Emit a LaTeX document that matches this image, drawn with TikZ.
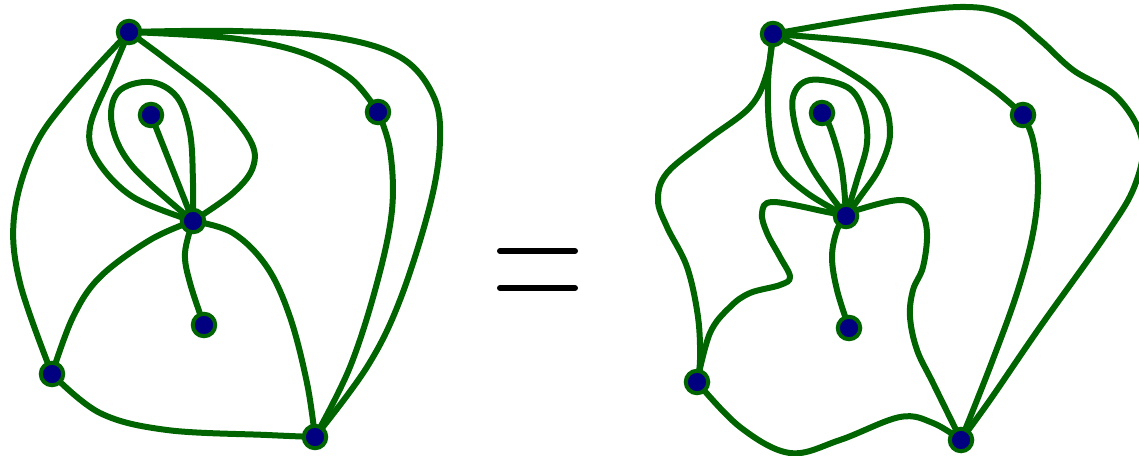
\documentclass[tikz,border=0pt]{standalone}
\usetikzlibrary{backgrounds}
\definecolor{edgegreen}{RGB}{0,100,0}
\definecolor{vertblue}{RGB}{0,0,128}
\begin{document}
\begin{tikzpicture}[x=1pt,y=-1pt,
  vert/.style={circle,draw=edgegreen,fill=vertblue,line width=4pt,minimum size=22.5pt,inner sep=0pt},
  edge/.style={draw=edgegreen,line width=6pt,line cap=round,line join=round},
  eqline/.style={draw=black,line width=6pt,line cap=round}]
\useasboundingbox (0,0) rectangle (1139,455);
% left graph vertices
\node[vert] (T) at (129,32) {};
\node[vert] (A) at (151,115) {};
\node[vert] (R) at (378,112) {};
\node[vert] (C) at (193,221) {};
\node[vert] (D) at (204,325) {};
\node[vert] (L) at (52,374) {};
\node[vert] (B) at (315,437) {};
% right graph vertices
\node[vert] (T2) at (773,34) {};
\node[vert] (A2) at (822,113) {};
\node[vert] (R2) at (1023,115) {};
\node[vert] (C2) at (846,216) {};
\node[vert] (D2) at (849,328) {};
\node[vert] (L2) at (697,382) {};
\node[vert] (B2) at (961,440) {};
\begin{pgfonlayer}{background}
\begin{scope}[every path/.style={edge}]
% left graph edges
\draw plot[smooth,tension=0.6] coordinates {(T.center) (230,38) (300,52) (350,78) (R.center)};
\draw plot[smooth,tension=0.6] coordinates {(T.center) (233,31) (333,37) (400,57) (433,95) (440,140) (430,205) (400,300) (367,367) (B.center)};
\draw plot[smooth,tension=0.6] coordinates {(R.center) (390,150) (392,210) (377,283) (350,367) (B.center)};
\draw plot[smooth,tension=0.6] coordinates {(T.center) (67,100) (33,150) (14,217) (20,283) (L.center)};
\draw plot[smooth,tension=0.6] coordinates {(L.center) (100,413) (167,430) (267,435) (B.center)};
\draw plot[smooth,tension=0.6] coordinates {(C.center) (150,240) (100,277) (73,317) (L.center)};
\draw plot[smooth,tension=0.6] coordinates {(C.center) (233,233) (267,267) (290,317) (307,383) (B.center)};
\draw plot[smooth,tension=0.6] coordinates {(C.center) (185,253) (190,283) (D.center)};
\draw (C.center) -- (A.center);
\draw plot[smooth,tension=0.6] coordinates {(T.center) (167,60) (217,100) (250,140) (253,167) (233,193) (C.center)};
\draw plot[smooth,tension=0.6] coordinates {(T.center) (110,77) (90,127) (97,160) (133,197) (C.center)};
\draw plot[smooth,tension=0.6] coordinates {(C.center) (133,167) (112,125) (118,92) (150,82) (177,97) (190,133) (193,183) (C.center)};
% right graph edges
\draw plot[smooth,tension=0.6] coordinates {(T2.center) (873,43) (940,57) (990,87) (R2.center)};
\draw plot[smooth,tension=0.6] coordinates {(T2.center) (873,17) (960,7) (1007,15) (1040,40) (1073,70) (1117,97) (1142,140) (1135,185) (1107,233) (1040,327) (990,400) (B2.center)};
\draw plot[smooth,tension=0.6] coordinates {(R2.center) (1033,140) (1038,183) (1033,233) (1017,293) (990,367) (B2.center)};
\draw plot[smooth,tension=0.6] coordinates {(T2.center) (767,73) (750,107) (707,140) (667,173) (658,200) (667,227) (687,267) (698,317) (700,360) (L2.center)};
\draw plot[smooth,tension=0.6] coordinates {(L2.center) (740,427) (790,453) (840,440) (900,417) (933,423) (B2.center)};
\draw plot[smooth,tension=0.6] coordinates {(C2.center) (827,212) (773,202) (762,213) (767,233) (780,257) (790,277) (780,285) (750,293) (730,307) (710,333) (L2.center)};
\draw plot[smooth,tension=0.6] coordinates {(C2.center) (857,210) (900,200) (920,210) (927,233) (923,267) (913,290) (910,317) (917,350) (933,383) (B2.center)};
\draw plot[smooth,tension=0.6] coordinates {(C2.center) (837,230) (832,257) (837,290) (D2.center)};
\draw plot[smooth,tension=0.6] coordinates {(A2.center) (830,127) (840,160) (844,187) (C2.center)};
\draw plot[smooth,tension=0.6] coordinates {(T2.center) (840,67) (880,97) (890,133) (880,167) (860,197) (C2.center)};
\draw plot[smooth,tension=0.6] coordinates {(T2.center) (768,83) (770,133) (780,167) (807,193) (C2.center)};
\draw plot[smooth,tension=0.6] coordinates {(C2.center) (813,170) (797,133) (793,97) (810,80) (847,87) (863,110) (867,143) (857,180) (C2.center)};
\end{scope}
\end{pgfonlayer}
% equals sign
\draw[eqline] (500,251) -- (575,251);
\draw[eqline] (500,288) -- (575,288);
\end{tikzpicture}
\end{document}
